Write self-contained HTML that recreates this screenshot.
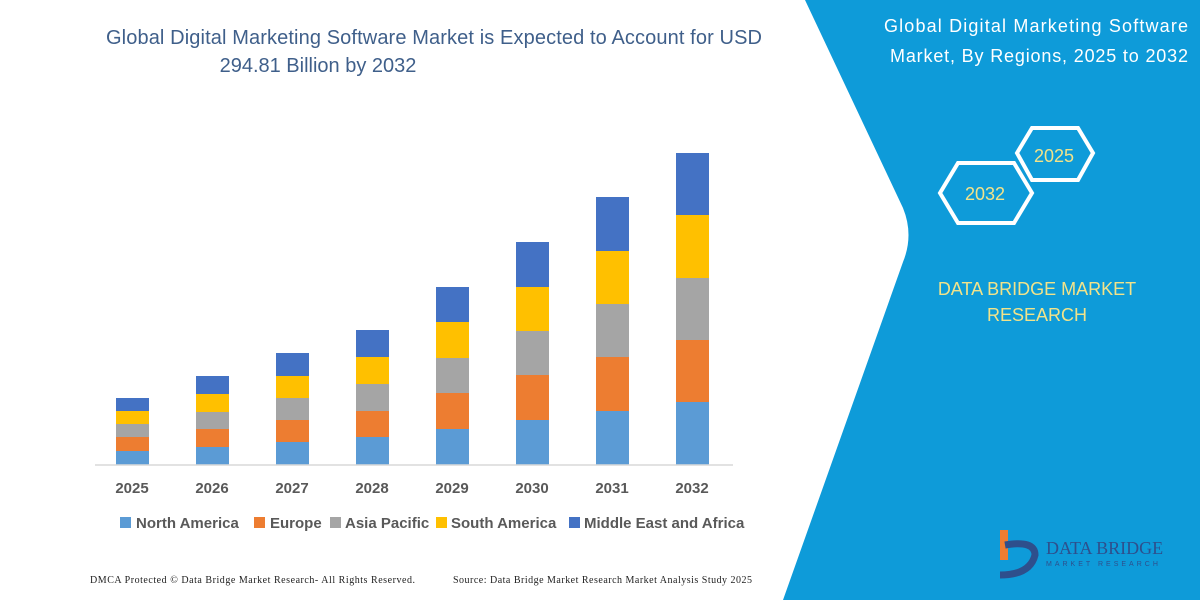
<!DOCTYPE html>
<html><head><meta charset="utf-8"><style>
body{margin:0;width:1200px;height:600px;overflow:hidden;background:#fff;font-family:"Liberation Sans",sans-serif}
</style></head><body>
<svg width="1200" height="600" xmlns="http://www.w3.org/2000/svg" font-family="Liberation Sans, sans-serif">
<rect width="1200" height="600" fill="#fff"/>
<path d="M805,0 L1200,0 L1200,600 L783,600 L903,262 Q914,235 903,208 Z" fill="#0e9bd9"/>
<text x="434" y="44" text-anchor="middle" font-size="20" fill="#3f5f8a" textLength="656">Global Digital Marketing Software Market is Expected to Account for USD</text>
<text x="318" y="72" text-anchor="middle" font-size="20" fill="#3f5f8a">294.81 Billion by 2032</text>
<g id="bars"></g>
<line x1="95" y1="465" x2="733" y2="465" stroke="#d9d9d9" stroke-width="1.5"/>
<g font-size="15" font-weight="bold" fill="#595959" text-anchor="middle">
<text x="132" y="493">2025</text><text x="212" y="493">2026</text><text x="292" y="493">2027</text><text x="372" y="493">2028</text><text x="452" y="493">2029</text><text x="532" y="493">2030</text><text x="612" y="493">2031</text><text x="692" y="493">2032</text>
</g>
<g font-size="15" font-weight="bold" fill="#595959">
<rect x="120" y="517" width="11" height="11" fill="#5b9bd5"/><text x="136" y="528">North America</text>
<rect x="254" y="517" width="11" height="11" fill="#ed7d31"/><text x="270" y="528">Europe</text>
<rect x="330" y="517" width="11" height="11" fill="#a5a5a5"/><text x="345" y="528">Asia Pacific</text>
<rect x="436" y="517" width="11" height="11" fill="#ffc000"/><text x="451" y="528">South America</text>
<rect x="569" y="517" width="11" height="11" fill="#4472c4"/><text x="584" y="528">Middle East and Africa</text>
</g>
<text x="90" y="583" font-size="10" font-family="Liberation Serif, serif" fill="#222" textLength="325">DMCA Protected © Data Bridge Market Research-  All Rights Reserved.</text>
<text x="453" y="583" font-size="10" font-family="Liberation Serif, serif" fill="#222" textLength="299">Source: Data Bridge Market Research  Market Analysis Study 2025</text>
<g fill="#fff" font-size="18" text-anchor="end">
<text x="1188" y="32" textLength="304">Global Digital Marketing Software</text>
<text x="1188" y="62" textLength="298">Market, By Regions, 2025 to 2032</text>
</g>
<polygon points="940,193 958,163 1014,163 1032,193 1014,223 958,223" fill="none" stroke="#fff" stroke-width="4"/>
<polygon points="1017,153 1032,128 1078,128 1093,153 1078,180 1032,180" fill="none" stroke="#fff" stroke-width="4"/>
<text x="985" y="200" text-anchor="middle" font-size="18" fill="#f2e38a">2032</text>
<text x="1054" y="162" text-anchor="middle" font-size="18" fill="#f2e38a">2025</text>
<text x="1037" y="295" text-anchor="middle" font-size="18" fill="#f2e38a">DATA BRIDGE MARKET</text>
<text x="1037" y="321" text-anchor="middle" font-size="18" fill="#f2e38a">RESEARCH</text>
<rect x="1000" y="530" width="8" height="30" fill="#ed7d31"/>
<path d="M1005,545 Q1035,540 1035,555 Q1030,575 1000,575" fill="none" stroke="#2e4f8c" stroke-width="7"/>
<text x="1046" y="554" font-size="18" font-family="Liberation Serif, serif" fill="#2e4f8c">DATA BRIDGE</text>
<text x="1046" y="566" font-size="7" fill="#2e4f8c" letter-spacing="3">MARKET RESEARCH</text>
</svg>
<script>
var tops=[[451,437,424,411,398],[447,429,412,394,376],[442,420,398,376,353],[437,411,384,357,330],[429,393,358,322,287],[420,375,331,287,242],[411,357,304,251,197],[402,340,278,215,153]];
var cols=["#5b9bd5","#ed7d31","#a5a5a5","#ffc000","#4472c4"];
var g=document.getElementById("bars"),s="";
tops.forEach(function(t,i){var x=116+80*i,prev=465;t.forEach(function(y,j){s+='<rect x="'+x+'" y="'+y+'" width="33" height="'+(prev-y)+'" fill="'+cols[j]+'"/>';prev=y;});});
g.innerHTML=s;
</script>
</body></html>
